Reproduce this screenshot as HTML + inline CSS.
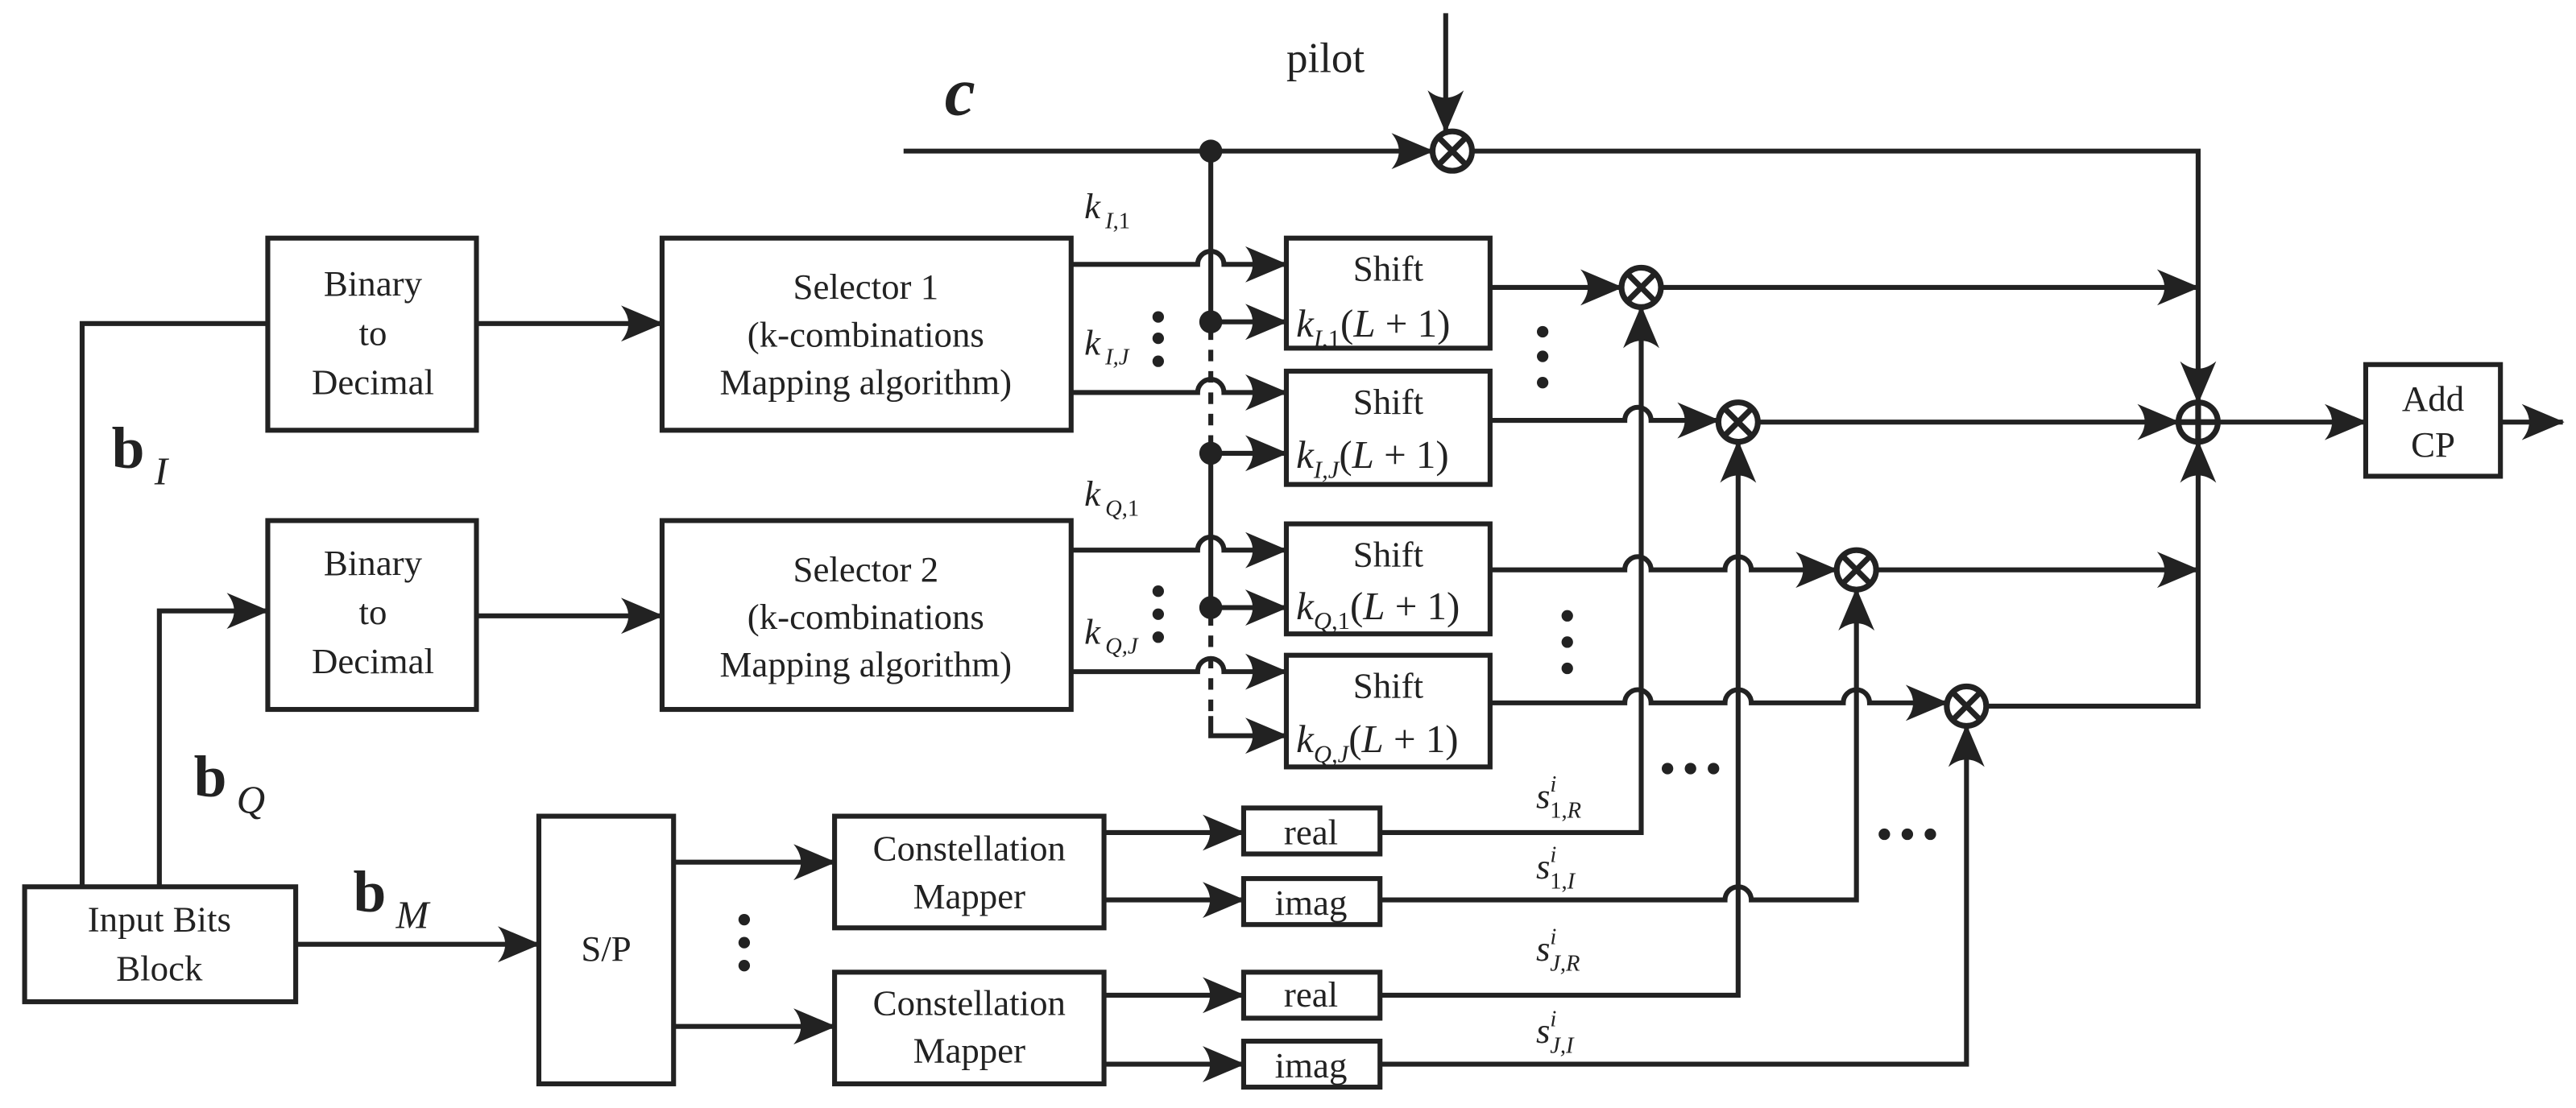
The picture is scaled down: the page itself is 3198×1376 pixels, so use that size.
<!DOCTYPE html>
<html><head><meta charset="utf-8"><style>
html,body{margin:0;padding:0;background:#fff;}
svg{display:block;}
svg text{font-family:"Liberation Serif","Times New Roman","DejaVu Serif",serif;fill:#222;}
</style></head><body>
<svg width="3198" height="1376" viewBox="0 0 1568 674.7" preserveAspectRatio="none" xmlns="http://www.w3.org/2000/svg" font-family="Liberation Serif, DejaVu Serif, serif">
<defs>
<marker id="a" viewBox="0 0 26 22" refX="25" refY="11" markerWidth="26" markerHeight="22" markerUnits="userSpaceOnUse" orient="auto">
<path d="M0 0 L26 11 L0 22 Q9 11 0 0 Z" fill="#222"/></marker>
</defs>
<g stroke="#222" stroke-width="3" fill="none">
<rect x="163" y="145" width="127" height="117"/>
<rect x="163" y="317" width="127" height="115"/>
<rect x="403" y="145" width="249" height="117"/>
<rect x="403" y="317" width="249" height="115"/>
<rect x="15" y="540" width="165" height="70"/>
<rect x="328" y="497" width="82" height="163"/>
<rect x="508" y="497" width="164" height="68"/>
<rect x="508" y="592" width="164" height="68"/>
<rect x="757" y="492" width="83" height="28"/>
<rect x="757" y="535" width="83" height="28"/>
<rect x="757" y="592" width="83" height="28"/>
<rect x="757" y="634" width="83" height="28"/>
<rect x="783" y="145" width="124" height="67"/>
<rect x="783" y="226" width="124" height="69"/>
<rect x="783" y="319" width="124" height="67"/>
<rect x="783" y="399" width="124" height="68"/>
<rect x="1440" y="222" width="82" height="68"/>
<path d="M50 540 V197 H163"/>
<path d="M97 540 V372 H163" marker-end="url(#a)"/>
<path d="M290 197 H403" marker-end="url(#a)"/>
<path d="M290 375 H403" marker-end="url(#a)"/>
<path d="M180 575 H328" marker-end="url(#a)"/>
<path d="M410 525 H508" marker-end="url(#a)"/>
<path d="M410 625 H508" marker-end="url(#a)"/>
<path d="M672 507 H757" marker-end="url(#a)"/>
<path d="M672 548 H757" marker-end="url(#a)"/>
<path d="M672 606 H757" marker-end="url(#a)"/>
<path d="M672 648 H757" marker-end="url(#a)"/>
<path d="M550 92 H872" marker-end="url(#a)"/>
<path d="M880 8 V80" marker-end="url(#a)"/>
<path d="M896 92 H1338 V245" marker-end="url(#a)"/>
<path d="M737 92 V196"/>
<path d="M737 200 V272" stroke-dasharray="7 6"/>
<path d="M737 276 V370"/>
<path d="M737 374 V436" stroke-dasharray="7 6"/>
<path d="M737 436 V448 H783" marker-end="url(#a)"/>
<path d="M737 196 H783" marker-end="url(#a)"/>
<path d="M737 276 H783" marker-end="url(#a)"/>
<path d="M737 370 H783" marker-end="url(#a)"/>
<path d="M652 161 H729 A8 8 0 0 1 745 161 H783" marker-end="url(#a)"/>
<path d="M652 239 H729 A8 8 0 0 1 745 239 H783" marker-end="url(#a)"/>
<path d="M652 335 H729 A8 8 0 0 1 745 335 H783" marker-end="url(#a)"/>
<path d="M652 409 H729 A8 8 0 0 1 745 409 H783" marker-end="url(#a)"/>
<path d="M907 175 H987" marker-end="url(#a)"/>
<path d="M907 256 H989 A8 8 0 0 1 1005 256 H1046" marker-end="url(#a)"/>
<path d="M907 347 H989 A8 8 0 0 1 1005 347 H1050 A8 8 0 0 1 1066 347 H1118" marker-end="url(#a)"/>
<path d="M907 428 H989 A8 8 0 0 1 1005 428 H1050 A8 8 0 0 1 1066 428 H1122 A8 8 0 0 1 1138 428 H1185" marker-end="url(#a)"/>
<path d="M840 507 H999 V187" marker-end="url(#a)"/>
<path d="M840 548 H1050 A8 8 0 0 1 1066 548 H1130 V359" marker-end="url(#a)"/>
<path d="M840 606 H1058 V269" marker-end="url(#a)"/>
<path d="M840 648 H1197 V442" marker-end="url(#a)"/>
<path d="M1011 175 H1338" marker-end="url(#a)"/>
<path d="M1070 257 H1326" marker-end="url(#a)"/>
<path d="M1142 347 H1338" marker-end="url(#a)"/>
<path d="M1209 430 H1338 V269" marker-end="url(#a)"/>
<path d="M1350 257 H1440" marker-end="url(#a)"/>
<path d="M1522 257 H1560" marker-end="url(#a)"/>
<g stroke-width="3.5">
<circle cx="884" cy="92" r="12"/><path d="M876 84 L892 100 M892 84 L876 100"/>
<circle cx="999" cy="175" r="12"/><path d="M991 167 L1007 183 M1007 167 L991 183"/>
<circle cx="1058" cy="257" r="12"/><path d="M1050 249 L1066 265 M1066 249 L1050 265"/>
<circle cx="1130" cy="347" r="12"/><path d="M1122 339 L1138 355 M1138 339 L1122 355"/>
<circle cx="1197" cy="430" r="12"/><path d="M1189 422 L1205 438 M1205 422 L1189 438"/>
<circle cx="1338" cy="257" r="12"/><path d="M1326 257 H1350 M1338 245 V269"/>
</g>
</g>
<g fill="#222">
<circle cx="737" cy="92" r="7"/>
<circle cx="737" cy="196" r="7"/>
<circle cx="737" cy="276" r="7"/>
<circle cx="737" cy="370" r="7"/>
<circle cx="705" cy="193" r="3.5"/><circle cx="705" cy="206" r="3.5"/><circle cx="705" cy="220" r="3.5"/>
<circle cx="705" cy="360" r="3.5"/><circle cx="705" cy="374" r="3.5"/><circle cx="705" cy="388" r="3.5"/>
<circle cx="939" cy="202" r="3.5"/><circle cx="939" cy="217" r="3.5"/><circle cx="939" cy="233" r="3.5"/>
<circle cx="954" cy="375" r="3.5"/><circle cx="954" cy="391" r="3.5"/><circle cx="954" cy="407" r="3.5"/>
<circle cx="453" cy="560" r="3.5"/><circle cx="453" cy="574" r="3.5"/><circle cx="453" cy="588" r="3.5"/>
<circle cx="1015" cy="468" r="3.5"/><circle cx="1029" cy="468" r="3.5"/><circle cx="1043" cy="468" r="3.5"/>
<circle cx="1147" cy="508" r="3.5"/><circle cx="1161" cy="508" r="3.5"/><circle cx="1175" cy="508" r="3.5"/>
</g>
<g font-size="22" text-anchor="middle" font-family="Liberation Serif, DejaVu Serif, serif">
<text x="227" y="180">Binary</text><text x="227" y="210">to</text><text x="227" y="240">Decimal</text>
<text x="227" y="350">Binary</text><text x="227" y="380">to</text><text x="227" y="410">Decimal</text>
<text x="527" y="182">Selector 1</text><text x="527" y="211">(k-combinations</text><text x="527" y="240">Mapping algorithm)</text>
<text x="527" y="354">Selector 2</text><text x="527" y="383">(k-combinations</text><text x="527" y="412">Mapping algorithm)</text>
<text x="97" y="567">Input Bits</text><text x="97" y="597">Block</text>
<text x="369" y="585">S/P</text>
<text x="590" y="524">Constellation</text><text x="590" y="553">Mapper</text>
<text x="590" y="618">Constellation</text><text x="590" y="647">Mapper</text>
<text x="798" y="514">real</text><text x="798" y="557">imag</text>
<text x="798" y="613">real</text><text x="798" y="656">imag</text>
<text x="845" y="171">Shift</text><text x="845" y="252">Shift</text>
<text x="845" y="345">Shift</text><text x="845" y="425">Shift</text>
<text x="1481" y="250">Add</text><text x="1481" y="278">CP</text>
</g>
<text x="783" y="44" font-size="26">pilot</text>
<text x="575" y="70" font-size="42" font-weight="bold" font-style="italic">c</text>
<text x="68" y="285" font-size="36" font-weight="bold">b<tspan font-size="24" font-weight="normal" font-style="italic" dx="6" dy="10">I</tspan></text>
<text x="118" y="485" font-size="36" font-weight="bold">b<tspan font-size="24" font-weight="normal" font-style="italic" dx="6" dy="10">Q</tspan></text>
<text x="215" y="555" font-size="36" font-weight="bold">b<tspan font-size="24" font-weight="normal" font-style="italic" dx="6" dy="10">M</tspan></text>
<g font-size="22" font-style="italic" font-family="Liberation Serif, DejaVu Serif, serif">
<text x="660" y="133">k<tspan font-size="14" dx="3" dy="6">I</tspan><tspan font-size="14" font-style="normal">,1</tspan></text>
<text x="660" y="216">k<tspan font-size="14" dx="3" dy="6">I</tspan><tspan font-size="14">,J</tspan></text>
<text x="660" y="308">k<tspan font-size="14" dx="3" dy="6">Q</tspan><tspan font-size="14" font-style="normal">,1</tspan></text>
<text x="660" y="392">k<tspan font-size="14" dx="3" dy="6">Q</tspan><tspan font-size="14">,J</tspan></text>
<text x="789" y="205" font-size="24">k<tspan font-size="15" dy="6">I</tspan><tspan font-size="15" font-style="normal">,1</tspan><tspan font-style="normal" dy="-6">(</tspan>L<tspan font-style="normal"> + 1)</tspan></text>
<text x="789" y="285" font-size="24">k<tspan font-size="15" dy="6">I</tspan><tspan font-size="15">,J</tspan><tspan font-style="normal" dy="-6">(</tspan>L<tspan font-style="normal"> + 1)</tspan></text>
<text x="789" y="377" font-size="24">k<tspan font-size="15" dy="6">Q</tspan><tspan font-size="15" font-style="normal">,1</tspan><tspan font-style="normal" dy="-6">(</tspan>L<tspan font-style="normal"> + 1)</tspan></text>
<text x="789" y="458" font-size="24">k<tspan font-size="15" dy="6">Q</tspan><tspan font-size="15">,J</tspan><tspan font-style="normal" dy="-6">(</tspan>L<tspan font-style="normal"> + 1)</tspan></text>
<text x="935" y="492">s<tspan font-size="14" dy="-10">i</tspan><tspan font-size="14" font-style="normal" dx="-4" dy="16">1,</tspan><tspan font-size="14">R</tspan></text>
<text x="935" y="535">s<tspan font-size="14" dy="-10">i</tspan><tspan font-size="14" font-style="normal" dx="-4" dy="16">1,</tspan><tspan font-size="14">I</tspan></text>
<text x="935" y="585">s<tspan font-size="14" dy="-10">i</tspan><tspan font-size="14" dx="-4" dy="16">J,R</tspan></text>
<text x="935" y="635">s<tspan font-size="14" dy="-10">i</tspan><tspan font-size="14" dx="-4" dy="16">J,I</tspan></text>
</g>
</svg>
</body></html>
